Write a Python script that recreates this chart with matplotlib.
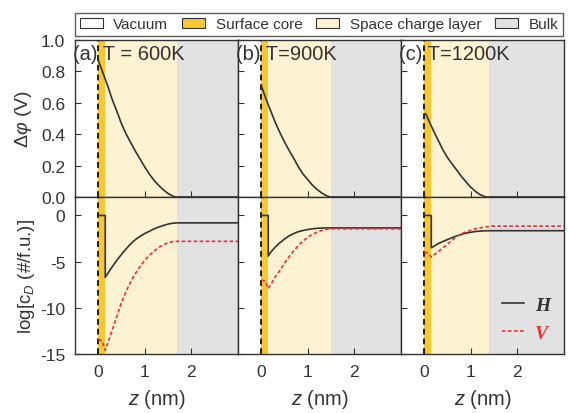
import matplotlib
matplotlib.use("Agg")
import matplotlib.pyplot as plt
from matplotlib.patches import Patch

plt.rcParams['font.family'] = ['Liberation Sans', 'DejaVu Sans']
plt.rcParams['mathtext.fontset'] = 'custom'
plt.rcParams['mathtext.rm'] = 'Liberation Sans'
plt.rcParams['mathtext.it'] = 'Liberation Sans:italic'
plt.rcParams['axes.unicode_minus'] = False

# ---- data ----
temps = ["(a) T = 600K", "(b) T=900K", "(c) T=1200K"]
core_end = [0.15, 0.15, 0.15]
scl_end = [1.7, 1.5, 1.4]

phi_z = [[0, 0.1, 0.2, 0.3, 0.4, 0.5, 0.6, 0.7, 0.8, 0.9, 1.0, 1.1, 1.2, 1.3, 1.4, 1.5, 1.6, 1.65, 3.0],
         [0, 0.1, 0.2, 0.3, 0.4, 0.5, 0.6, 0.7, 0.8, 0.9, 1.0, 1.1, 1.2, 1.3, 1.4, 1.48, 3.0],
         [0.03, 0.1, 0.2, 0.3, 0.4, 0.5, 0.6, 0.7, 0.8, 0.9, 1.0, 1.1, 1.2, 1.32, 3.0]]
phi_v = [[0.87, 0.79, 0.71, 0.62, 0.545, 0.465, 0.40, 0.345, 0.29, 0.24, 0.19, 0.145, 0.105, 0.073, 0.045, 0.022, 0.006, 0, 0],
         [0.71, 0.625, 0.55, 0.475, 0.41, 0.35, 0.295, 0.245, 0.19, 0.145, 0.11, 0.075, 0.048, 0.025, 0.008, 0, 0],
         [0.53, 0.485, 0.42, 0.36, 0.30, 0.25, 0.21, 0.17, 0.13, 0.095, 0.062, 0.035, 0.015, 0, 0]]

H_z = [[0, 0.15, 0.15, 0.2, 0.3, 0.4, 0.5, 0.6, 0.7, 0.8, 0.9, 1.0, 1.1, 1.2, 1.3, 1.4, 1.5, 1.6, 1.7, 3.0],
       [0, 0.15, 0.15, 0.2, 0.3, 0.4, 0.5, 0.6, 0.7, 0.8, 0.9, 1.0, 1.1, 1.2, 1.3, 1.4, 3.0],
       [0, 0.15, 0.15, 0.3, 0.5, 0.7, 0.9, 1.1, 1.3, 1.45, 3.0]]
H_v = [[0, 0, -6.7, -6.3, -5.55, -4.85, -4.2, -3.6, -3.05, -2.6, -2.25, -1.95, -1.7, -1.45, -1.25, -1.08, -0.93, -0.84, -0.8, -0.8],
       [0, 0, -4.4, -4.0, -3.42, -2.95, -2.55, -2.2, -1.95, -1.75, -1.62, -1.52, -1.44, -1.39, -1.36, -1.35, -1.35],
       [0, 0, -3.5, -3.05, -2.6, -2.2, -1.9, -1.73, -1.66, -1.65, -1.65]]

V_z = [[0, 0.08, 0.15, 0.2, 0.3, 0.4, 0.5, 0.6, 0.7, 0.8, 0.9, 1.0, 1.1, 1.2, 1.3, 1.4, 1.5, 1.6, 1.7, 3.0],
       [0, 0.08, 0.15, 0.2, 0.3, 0.4, 0.5, 0.6, 0.7, 0.8, 0.9, 1.0, 1.1, 1.2, 1.3, 1.4, 1.5, 3.0],
       [0, 0.08, 0.15, 0.3, 0.5, 0.7, 0.9, 1.1, 1.3, 1.45, 3.0]]
V_v = [[-13.4, -13.6, -14.6, -13.9, -12.4, -10.9, -9.4, -8.2, -7.15, -6.25, -5.5, -4.85, -4.3, -3.85, -3.45, -3.15, -2.95, -2.83, -2.8, -2.8],
       [-7.0, -7.1, -7.9, -7.5, -6.65, -5.95, -5.15, -4.45, -3.8, -3.22, -2.75, -2.35, -2.05, -1.8, -1.62, -1.5, -1.45, -1.45],
       [-3.95, -4.1, -4.5, -3.9, -3.1, -2.25, -1.75, -1.45, -1.25, -1.15, -1.15]]

region_labels = ["Vacuum", "Surface core", "Space charge layer", "Bulk"]
region_colors = ["#FFFFFF", "#F7C733", "#FDF3D2", "#E2E2E2"]

XMIN, XMAX = -0.5, 3.0
dark = "#333333"

fig = plt.figure(figsize=(5.69, 4.14), dpi=100)
W, Hf = 569, 414
left0 = 75 / W
pw = 163 / W
top_b = 1 - 198 / Hf
ph = 157 / Hf
bot_b = 1 - 355 / Hf

def shade(ax, i):
    ax.axvspan(XMIN, 0, color=region_colors[0], lw=0, zorder=0)
    ax.axvspan(0, core_end[i], color=region_colors[1], lw=0, zorder=0)
    ax.axvspan(core_end[i], scl_end[i], color=region_colors[2], lw=0, zorder=0)
    ax.axvspan(scl_end[i], XMAX, color=region_colors[3], lw=0, zorder=0)
    ax.axvline(0, color="#222222", ls=(0, (3, 2)), lw=1.4, zorder=3)

for i in range(3):
    axt = fig.add_axes([left0 + i * pw, top_b, pw, ph])
    axb = fig.add_axes([left0 + i * pw, bot_b, pw, ph])
    for ax in (axt, axb):
        shade(ax, i)
        ax.set_xlim(XMIN, XMAX)
        ax.set_xticks([0, 1, 2])
        ax.tick_params(direction="in", length=4, width=0.8, colors=dark,
                       labelsize=12.5, pad=7, top=False, right=False)
        for s in ax.spines.values():
            s.set_color(dark)
            s.set_linewidth(1.0)
    axt.plot(phi_z[i], phi_v[i], color=dark, lw=1.2, zorder=4)
    axt.set_ylim(0, 1.0)
    axt.set_yticks([0, 0.2, 0.4, 0.6, 0.8, 1.0])
    axt.tick_params(labelbottom=False)
    axt.text(-0.55, 0.975, temps[i], ha="left", va="top", fontsize=14.5,
             color=dark, zorder=5)

    axb.plot(H_z[i], H_v[i], color=dark, lw=1.2, zorder=4, label="H")
    axb.plot(V_z[i], V_v[i], color="#E8323A", lw=1.2, ls=(0, (2.2, 1.4)),
             zorder=4, label="V")
    axb.set_ylim(-15, 2)
    axb.set_yticks([0, -5, -10, -15])
    axb.set_xlabel(r"$z$ (nm)", fontsize=14.5, color=dark, labelpad=6)
    if i == 0:
        axt.set_yticklabels(["0.0", "0.2", "0.4", "0.6", "0.8", "1.0"])
        axt.set_ylabel(r"$\Delta\varphi$ (V)", fontsize=14, color=dark, labelpad=5)
        axb.set_ylabel(r"log[c$_D$ (#/f.u.)]", fontsize=13.5, color=dark, labelpad=2)
    else:
        axt.tick_params(labelleft=False)
        axb.tick_params(labelleft=False)
    if i == 2:
        axb.legend(loc="lower right", frameon=False, handlelength=1.1,
                   handletextpad=0.6, labelcolor="linecolor", borderaxespad=0.3,
                   labelspacing=0.55, bbox_to_anchor=(1.0, -0.01),
                   prop={"family": "Liberation Serif", "weight": "bold",
                         "style": "italic", "size": 14})

handles = [Patch(facecolor=c, edgecolor=dark, lw=0.8) for c in region_colors]
fig.legend(handles, region_labels, loc="lower left", ncol=4, mode="expand",
           bbox_to_anchor=(left0, 1 - 37 / Hf, 488 / W, 27 / Hf),
           fontsize=11, frameon=True, fancybox=False, edgecolor=dark,
           borderaxespad=0, handlelength=1.5, handletextpad=0.7,
           columnspacing=0.5, labelcolor=dark, borderpad=0.3)

fig.savefig("out.png", dpi=100)
